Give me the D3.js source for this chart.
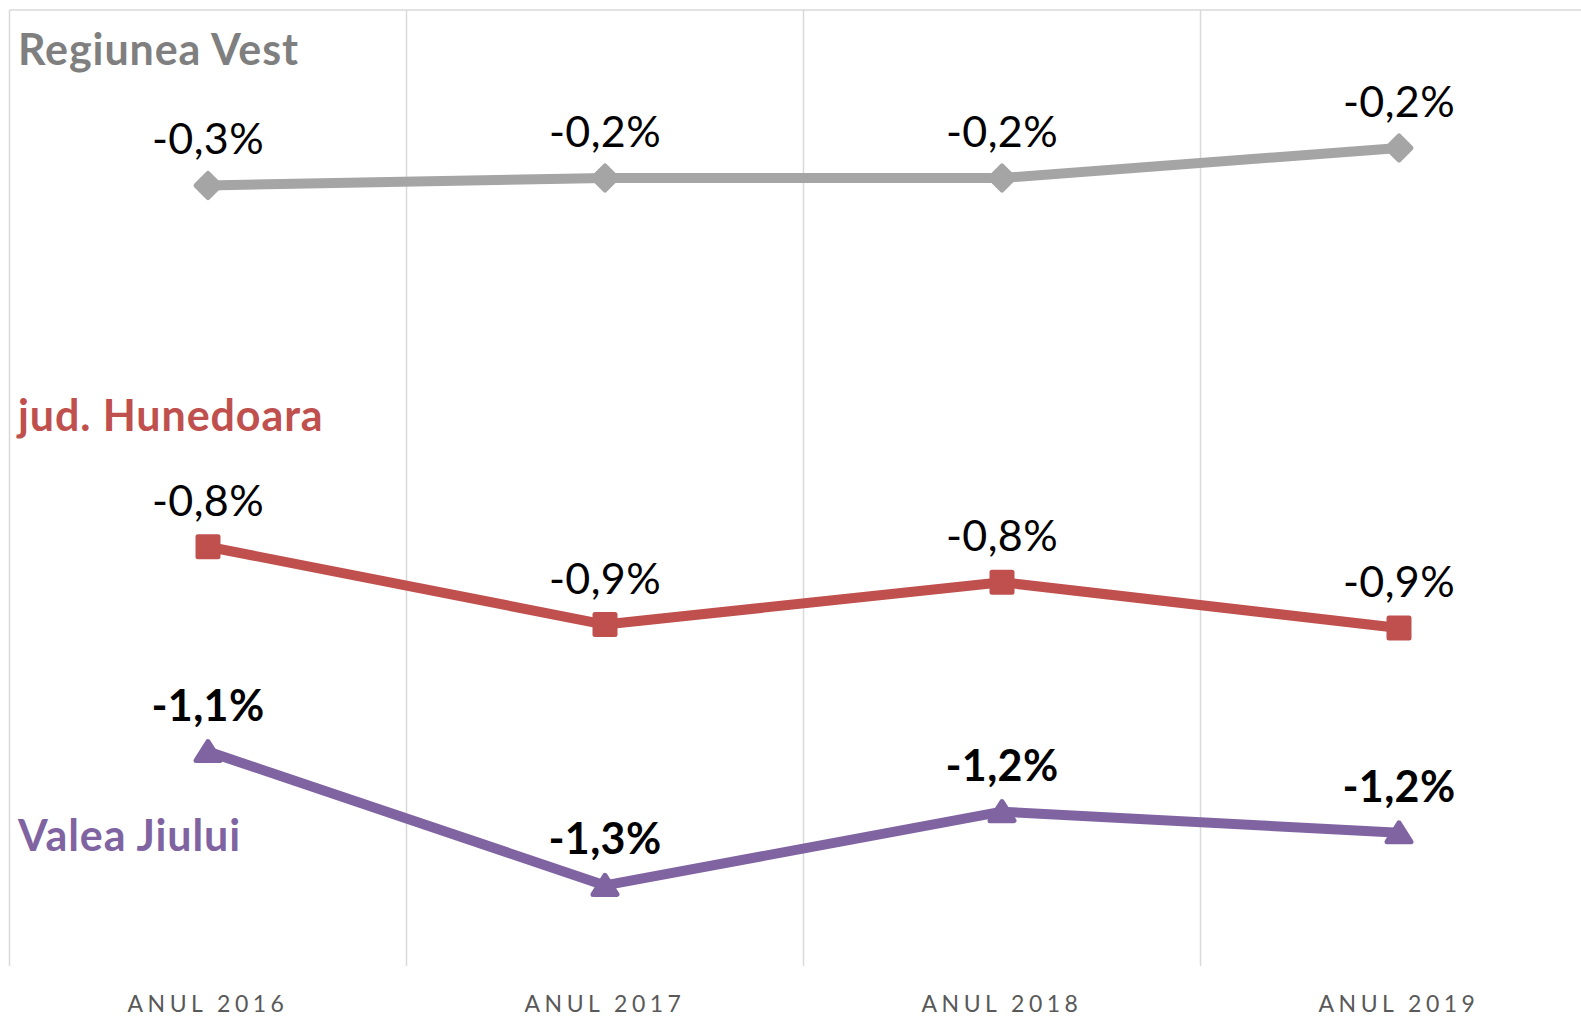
<!DOCTYPE html>
<html>
<head>
<meta charset="utf-8">
<script src="https://cdn.jsdelivr.net/npm/d3@7"></script>
<style>
body { margin: 0; background: #fff; }
svg { display: block; }
</style>
</head>
<body>
<div id="chart"></div>
<script>
// categorii si valori (procente)
var years = ["ANUL 2016", "ANUL 2017", "ANUL 2018", "ANUL 2019"];
var seriesNames = ["Regiunea Vest", "jud. Hunedoara", "Valea Jiului"];
var regiuneaVest = [-0.257, -0.246, -0.246, -0.202];
var judHunedoara = [-0.786, -0.90, -0.838, -0.905];
var valeaJiului = [-1.086, -1.282, -1.174, -1.205];
var yDomain = [-1.4, 0];

var W = 1581, H = 1016;
var plot = {left: 9.5, right: 1597.5, top: 10, bottom: 966};

var styles = [
	{color: "#a5a5a5", text: "#7f7f7f", marker: "diamond", bold: false, nameY: 65},
	{color: "#c0504d", text: "#c0504d", marker: "square", bold: false, nameY: 431},
	{color: "#8064a2", text: "#8064a2", marker: "triangle", bold: true, nameY: 851}
];

var series = [regiuneaVest, judHunedoara, valeaJiului].map(function(v, i) {
	return {name: seriesNames[i], values: v, style: styles[i]};
});

var locale = d3.formatLocale({decimal: ",", thousands: ".", grouping: [3], currency: ["", ""], minus: "-"});
var fmt = locale.format(".1f");

var svg = d3.select("#chart").append("svg")
	.attr("width", W)
	.attr("height", H);

var x = d3.scaleBand()
	.domain(years)
	.range([plot.left, plot.right]);

var y = d3.scaleLinear()
	.domain(yDomain)
	.range([plot.bottom, plot.top]);

// chenar + linii verticale
svg.append("line")
	.attr("x1", plot.left).attr("x2", W)
	.attr("y1", plot.top).attr("y2", plot.top)
	.attr("stroke", "#d9d9d9").attr("stroke-width", 1.5);

svg.selectAll(".grid")
	.data(years)
	.enter()
	.append("line")
	.attr("class", "grid")
	.attr("x1", function(d) { return x(d); })
	.attr("x2", function(d) { return x(d); })
	.attr("y1", plot.top)
	.attr("y2", plot.bottom)
	.attr("stroke", "#d9d9d9")
	.attr("stroke-width", 1.5);

// axa x (doar etichetele)
var xAxis = svg.append("g")
	.attr("transform", "translate(0," + plot.bottom + ")")
	.call(d3.axisBottom(x).tickSize(0).tickPadding(0));
xAxis.select(".domain").remove();
xAxis.selectAll("text")
	.attr("dy", null)
	.attr("y", 46)
	.attr("font-family", "Lato, 'Open Sans', sans-serif")
	.attr("font-size", 23)
	.attr("letter-spacing", 4.5)
	.attr("fill", "#595959");

var line = d3.line()
	.x(function(d, i) { return x(years[i]) + x.bandwidth() / 2; })
	.y(function(d) { return y(d); });

function markerPath(type) {
	if (type == "diamond") return "M0,-12L12,0L0,12L-12,0Z";
	if (type == "square") return "M-10,-10H10V10H-10Z";
	return "M0,-10L12,9H-12Z";
}

var groups = svg.selectAll(".serie")
	.data(series)
	.enter()
	.append("g")
	.attr("class", "serie");

groups.append("path")
	.attr("d", function(d) { return line(d.values); })
	.attr("fill", "none")
	.attr("stroke", function(d) { return d.style.color; })
	.attr("stroke-width", 10)
	.attr("stroke-linejoin", "round");

groups.selectAll(".marker")
	.data(function(d) {
		return d.values.map(function(v, i) { return {v: v, i: i, s: d.style}; });
	})
	.enter()
	.append("path")
	.attr("class", "marker")
	.attr("transform", function(d) {
		return "translate(" + (x(years[d.i]) + x.bandwidth() / 2) + "," + y(d.v) + ")";
	})
	.attr("d", function(d) { return markerPath(d.s.marker); })
	.attr("fill", function(d) { return d.s.color; })
	.attr("stroke", function(d) { return d.s.color; })
	.attr("stroke-width", 5)
	.attr("stroke-linejoin", "round");

groups.selectAll(".label")
	.data(function(d) {
		return d.values.map(function(v, i) { return {v: v, i: i, s: d.style}; });
	})
	.enter()
	.append("text")
	.attr("class", "label")
	.attr("x", function(d) { return x(years[d.i]) + x.bandwidth() / 2; })
	.attr("y", function(d) { return y(d.v) - 31; })
	.attr("text-anchor", "middle")
	.attr("font-family", "Lato, 'Open Sans', sans-serif")
	.attr("font-size", 43)
	.attr("letter-spacing", 0.4)
	.attr("font-weight", function(d) { return d.s.bold ? "bold" : "normal"; })
	.attr("fill", "#000")
	.text(function(d) { return fmt(d.v) + "%"; });

// numele seriilor
groups.append("text")
	.attr("x", 18)
	.attr("y", function(d) { return d.style.nameY; })
	.attr("font-family", "Lato, 'Open Sans', sans-serif")
	.attr("font-size", 43)
	.attr("letter-spacing", 0.9)
	.attr("font-weight", "bold")
	.attr("fill", function(d) { return d.style.text; })
	.text(function(d) { return d.name; });
</script>
</body>
</html>
